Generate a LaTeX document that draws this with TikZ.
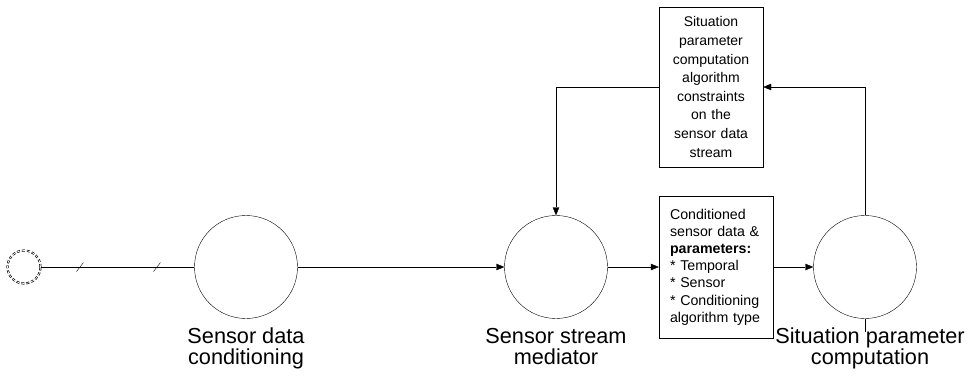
\documentclass[tikz,border=0pt]{standalone}
\usepackage{fontspec}
\setmainfont{Liberation Sans}
\usetikzlibrary{arrows.meta,positioning}
\newcommand{\drawTick}[2]{
    \draw[thin] (#1-3.5,#2+4.5) -- (#1+3.5,#2-4.5)
}

\begin{document}
\begin{tikzpicture}[x=1pt,y=-1pt,
    proc/.style={draw,circle,minimum size=103pt,inner sep=0pt},
    lbl/.style={align=center,font=\fontsize{21.7}{21}\selectfont,inner sep=0pt},
    note/.style={draw,minimum width=#1,inner sep=0pt},
    flow/.style={-{Triangle[length=8pt,width=6.5pt]}}]
            \useasboundingbox (0,0) rectangle (971,376);
            \node[draw,circle,minimum size=33pt,inner sep=0pt,densely dashed,line width=0.7pt,double distance=0.7pt] (src) at (24,267) {};
            \node[proc] (sdc) at (246,267) {};
            \node[proc] (ssm) at (556,267) {};
            \node[proc] (spc) at (865,267) {};
            \node[lbl,anchor=north] (sdclbl) at (246,328) {Sensor data\\conditioning};
            \node[lbl,anchor=north] (ssmlbl) at (556,328) {Sensor stream\\mediator};
            \node[lbl,anchor=north] (spclbl) at (870,328) {Situation parameter\\computation};
            \node[note=104pt,minimum height=160pt,align=center,text width=100pt,
                  font=\fontsize{14}{18.6}\selectfont] (cons) at (711,87)
                {Situation\\parameter\\computation\\algorithm\\constraints\\on the\\sensor data\\stream};
            \node[note=114pt,minimum height=142pt,align=left,text width=92pt,
                  font=\fontsize{14.2}{17.2}\selectfont] (cdata) at (716,267)
                {Conditioned\\sensor data \&\\\textbf{parameters:}\\{}* Temporal\\{}* Sensor\\{}* Conditioning\\algorithm type};
            \coordinate (stub) at (865,332);

            \draw (src) -- (sdc);
            \drawTick{80}{267};
            \drawTick{157}{267};
            \draw[flow] (sdc) -- (ssm);
            \draw[flow] (ssm) -- (cdata);
            \draw[flow] (cdata) -- (spc);
            \draw[flow] (spc.north) |- (cons.east);
            \draw[flow] (cons.west) -| (ssm.north);
            \draw (spc.south) -- (stub);
        \end{tikzpicture}
\end{document}
